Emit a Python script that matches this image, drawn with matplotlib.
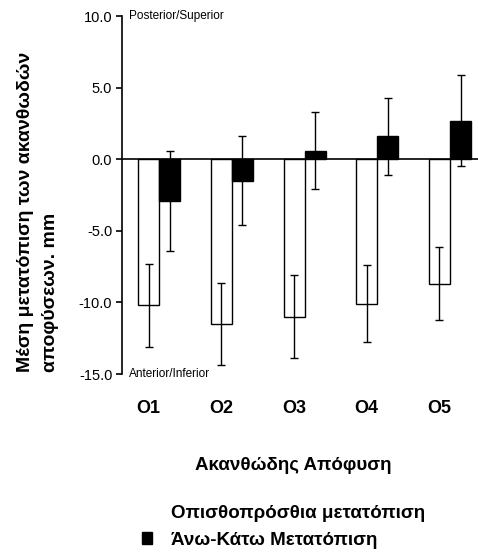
import matplotlib
matplotlib.use("Agg")
import matplotlib.pyplot as plt
import numpy as np
from matplotlib.patches import Patch

categories = ["O1", "O2", "O3", "O4", "O5"]
ap_values = [-10.2, -11.5, -11.0, -10.1, -8.7]
ap_errors = [2.9, 2.85, 2.9, 2.7, 2.55]
si_values = [-2.9, -1.5, 0.6, 1.6, 2.7]
si_errors = [3.5, 3.1, 2.7, 2.7, 3.2]
yticks = [-15.0, -10.0, -5.0, 0.0, 5.0, 10.0]

greek = ["Liberation Sans", "DejaVu Sans"]
W, H = 478, 557
fig = plt.figure(figsize=(W / 100, H / 100), dpi=100)
ax = fig.add_axes([122 / W, 1 - 374 / H, 1 - 122 / W, (374 - 16) / H])

x = np.arange(len(categories))
bw = 0.289
ax.bar(x - bw / 2, ap_values, bw, color="white", edgecolor="black", linewidth=1.0,
       yerr=ap_errors, capsize=3, error_kw=dict(elinewidth=1.0, capthick=1.0, ecolor="black"),
       zorder=2)
ax.bar(x + bw / 2, si_values, bw, color="black", edgecolor="black", linewidth=1.0,
       yerr=si_errors, capsize=3, error_kw=dict(elinewidth=1.0, capthick=1.0, ecolor="black"),
       zorder=2)
ax.axhline(0, color="black", linewidth=1.2, zorder=3)

ax.set_xlim(-0.51, 4.385)
ax.set_ylim(-15, 10)
for s in ["top", "right", "bottom"]:
    ax.spines[s].set_visible(False)
ax.spines["left"].set_linewidth(1.2)
ax.set_yticks(yticks)
ax.set_yticklabels([f"{v:.1f}" for v in yticks], fontfamily="Liberation Sans", fontsize=10.5)
ax.tick_params(axis="y", direction="out", length=4, width=1.2, pad=3)
ax.set_xticks(x - 0.145)
ax.set_xticklabels(categories, fontfamily=greek, fontweight="bold", fontsize=13)
ax.tick_params(axis="x", length=0, pad=19)

ax.text(0.02, 1.0, "Posterior/Superior", transform=ax.transAxes, fontfamily="Liberation Sans",
        fontsize=8.5, va="center", ha="left")
ax.text(0.02, 0.0, "Anterior/Inferior", transform=ax.transAxes, fontfamily="Liberation Sans",
        fontsize=8.5, va="center", ha="left")

fig.text(38 / W, 1 - 372 / H, "Μέση μετατόπιση των ακανθωδών\nαποφύσεων. mm",
         rotation=90, ha="center", va="bottom", multialignment="left",
         fontfamily=greek, fontweight="bold", fontsize=14, linespacing=1.6)

fig.text(293 / W, 1 - 465 / H, "Ακανθώδης Απόφυση", ha="center", va="center",
         fontfamily=greek, fontweight="bold", fontsize=13.5)

handles = [Patch(facecolor="white", edgecolor="white"), Patch(facecolor="black", edgecolor="black")]
labels = ["Οπισθοπρόσθια μετατόπιση", "Άνω-Κάτω Μετατόπιση"]
fig.legend(handles, labels, loc="upper left", bbox_to_anchor=(142 / W, 1 - 505 / H),
           frameon=False, borderpad=0, borderaxespad=0, handlelength=0.55, handleheight=0.55,
           handletextpad=1.0, labelspacing=0.52,
           prop=dict(family=greek, weight="bold", size=13.5))

fig.savefig("out.png", dpi=100)
